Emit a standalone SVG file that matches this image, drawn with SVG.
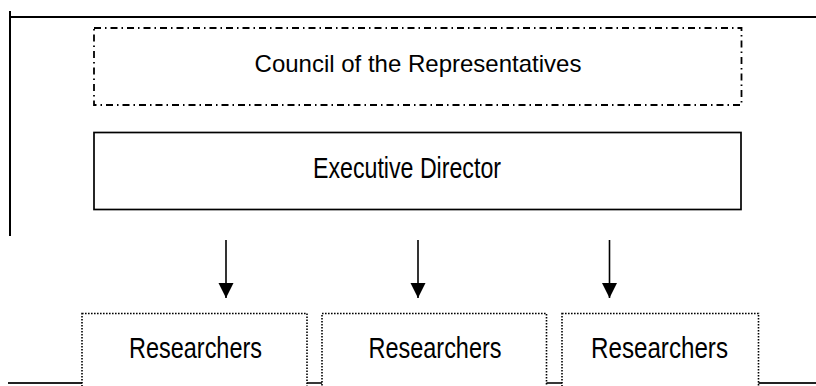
<svg xmlns="http://www.w3.org/2000/svg" width="816" height="386" viewBox="0 0 816 386">
  <defs>
    <style>
      .frame { stroke: #000; stroke-width: 2; fill: none; }
      .council { stroke: #000; stroke-width: 1.8; fill: none; stroke-dasharray: 7 4 1.5 4; }
      .exec { stroke: #000; stroke-width: 1.7; fill: #fff; }
      .res { stroke: #000; stroke-width: 1.6; fill: #fff; stroke-dasharray: 1.6 1.4; }
      .base { stroke: #222; stroke-width: 1.8; fill: none; }
      .arrow { stroke: #000; stroke-width: 1.6; fill: none; }
      .label { font-family: "Liberation Sans", Arial, sans-serif; fill: #000; }
    </style>
    <marker id="head" markerUnits="userSpaceOnUse" markerWidth="16" markerHeight="16" refX="15" refY="7.5" orient="auto">
      <path d="M0,0 L15,7.5 L0,15 Z" fill="#000"/>
    </marker>
  </defs>

  <rect width="816" height="386" fill="#fff"/>

  <!-- outer frame lines -->
  <g id="frame">
    <line class="frame" x1="10" y1="17" x2="816" y2="17"/>
    <line class="frame" x1="10" y1="11" x2="10" y2="236"/>
    <polyline class="base" points="8,383 82,383"/>
    <polyline class="base" points="307,383 322,383"/>
    <polyline class="base" points="546,383 562,383"/>
    <polyline class="base" points="758,383 816,383"/>
  </g>

  <g id="council">
    <rect class="council" x="94" y="28" width="647.5" height="77"/>
    <text class="label" x="418" y="72" font-size="24" text-anchor="middle">Council of the Representatives</text>
  </g>

  <g id="executive">
    <rect class="exec" x="94" y="132.5" width="647" height="77"/>
    <text class="label" x="313" y="178" font-size="30" textLength="188" lengthAdjust="spacingAndGlyphs">Executive Director</text>
  </g>

  <g id="researchers1">
    <rect class="res" x="82" y="313.5" width="225" height="80"/>
    <text class="label" x="129" y="358" font-size="30" textLength="133" lengthAdjust="spacingAndGlyphs">Researchers</text>
  </g>
  <g id="researchers2">
    <rect class="res" x="322" y="313.5" width="224.5" height="80"/>
    <text class="label" x="368.5" y="358" font-size="30" textLength="133" lengthAdjust="spacingAndGlyphs">Researchers</text>
  </g>
  <g id="researchers3">
    <rect class="res" x="562" y="313.5" width="196.5" height="80"/>
    <text class="label" x="591" y="358" font-size="30" textLength="137" lengthAdjust="spacingAndGlyphs">Researchers</text>
  </g>

  <g id="connectors">
    <line class="arrow" x1="226" y1="240" x2="226" y2="298" marker-end="url(#head)"/>
    <line class="arrow" x1="418" y1="240" x2="418" y2="298" marker-end="url(#head)"/>
    <line class="arrow" x1="609.5" y1="240" x2="609.5" y2="298" marker-end="url(#head)"/>
  </g>
</svg>
